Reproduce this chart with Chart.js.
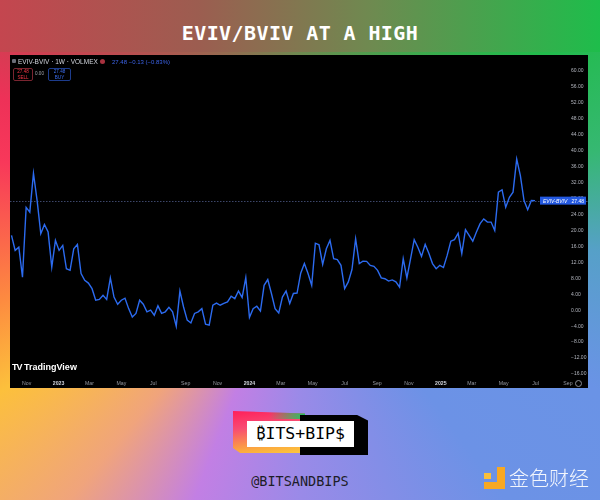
<!DOCTYPE html>
<html lang="en">
<head>
<meta charset="UTF-8" />
<title>EVIV/BVIV at a high</title>
<script src="https://cdn.jsdelivr.net/npm/chart.js"></script>
<style>
  body {
    margin: 0;
    width: 600px;
    height: 500px;
    overflow: hidden;
    position: relative;
    font-family: 'Liberation Sans', Arial, sans-serif;
    background:
      linear-gradient(90deg, #c4464f 0%, #9c5d50 33%, #6e8a50 62%, #1ebd4b 100%) top left / 600px 52px no-repeat,
      conic-gradient(from 0deg at 300px 225px, #6e8a50 0deg, #22bb4c 55deg, #36b872 76deg, #56a0c8 95deg,
        #6a93e6 119deg, #6c92e6 143deg, #9a8ae8 180deg, #c27fe4 201deg, #f0a47c 220deg, #fcc03c 241deg,
        #fd8a40 256deg, #f8385a 282deg, #ee3158 293deg, #c94250 305deg, #6e8a50 360deg);
  }

  #title {
    position: absolute; left: 0; top: 20px; width: 600px;
    text-align: center; color: #fff;
    font: bold 20px 'DejaVu Sans Mono', monospace;
    line-height: 26px; letter-spacing: 0.4px;
  }

  #panel {
    position: absolute; left: 10px; top: 55px;
    width: 578px; height: 333px; background: #000;
  }
  #panel .abs { position: absolute; white-space: nowrap; }

  .hdr { font-size: 6.5px; color: #d1d4dc; line-height: 8px; }
  .box { border: 1px solid; border-radius: 2px; text-align: center; font-size: 4.6px; line-height: 5.5px; }

  #tv { left: 2px; top: 307px; color: #fff; font-size: 9px; font-weight: bold; }

  /* logo */
  #lg-color {
    position: absolute; left: 233px; top: 411px; width: 72px; height: 42px;
    background:
      linear-gradient(90deg, rgba(34,197,94,0) 50%, #22c55e 100%) top / 100% 8px no-repeat,
      linear-gradient(172deg, #ff1f5a 0%, #f84a72 35%, #fca83f 78%, #fdc93c 100%);
    clip-path: polygon(0 0, 100% 6%, 100% 100%, 10% 100%, 0 88%);
  }
  #lg-black {
    position: absolute; left: 300px; top: 415px; width: 68px; height: 40px; background: #000;
    clip-path: polygon(0 0, 84% 0, 100% 14%, 100% 100%, 0 100%);
  }
  #lg-white {
    position: absolute; left: 247px; top: 421px; width: 107px; height: 26px; background: #fff;
    text-align: center; font: 16.5px 'DejaVu Sans Mono', 'Noto Sans', monospace; line-height: 26px; color: #000;
  }
  #handle {
    position: absolute; left: 200px; top: 473px; width: 200px; text-align: center;
    font: 13.5px 'DejaVu Sans Mono', monospace; color: #1d1d28; line-height: 16px;
  }
  #jsl { position: absolute; left: 484px; top: 467px; width: 21px; height: 22px; }
  #jsl div { position: absolute; background: #f7a823; }
  #jstext {
    position: absolute; left: 509px; top: 465px;
    font: 300 20px 'Noto Sans CJK SC', sans-serif; color: rgba(255,255,255,0.92); line-height: 26px;
  }
</style>
</head>
<body>

<div id="title">EVIV/BVIV AT A HIGH</div>

<div id="panel">
  <canvas id="chart"></canvas>

  <!-- TradingView header -->
  <div class="abs" style="left:2px;top:4px;width:4px;height:4px;background:#6a6d78;border-radius:1px;"></div>
  <div class="abs hdr" style="left:8px;top:3px;">EVIV-BVIV · 1W · VOLMEX</div>
  <div class="abs" style="left:90px;top:4px;width:5px;height:5px;border-radius:50%;background:#a8323f;"></div>
  <div class="abs hdr" style="left:102px;top:3px;font-size:6px;color:#3c63e6;">27.48 −0.13 (−0.83%)</div>
  <div class="abs box" style="left:3px;top:13px;width:18px;height:11px;border-color:#7a2530;color:#f23645;">27.48<br>SELL</div>
  <div class="abs" style="left:25px;top:16px;font-size:4.6px;color:#a0a3ab;">0.00</div>
  <div class="abs box" style="left:38px;top:13px;width:21px;height:11px;border-color:#1d3c8c;color:#3c6ef0;">27.48<br>BUY</div>

  <div class="abs" id="tv"><span style="letter-spacing:-1px;">TV</span> <span style="font-weight:600;">TradingView</span></div>
  <div class="abs" style="left:565px;top:325px;width:5px;height:5px;border:1px solid #8a8d96;border-radius:50%;"></div>
</div>

<div id="lg-color"></div>
<div id="lg-black"></div>
<div id="lg-white">₿ITS+BIP$</div>
<div id="handle">@BITSANDBIPS</div>

<div id="jsl">
  <div style="left:13px;top:0;width:8px;height:22px;"></div>
  <div style="left:0;top:15px;width:21px;height:7px;"></div>
  <div style="left:0;top:6px;width:7px;height:6px;background:#fbbf3a;"></div>
</div>
<div id="jstext">金色财经</div>

<script>
  // weekly EVIV - BVIV spread, first week starting 2022-10-03
  const startDate = '2022-10-03';
  const weekValues = [
    18.75, 15, 15.8, 8.3, 25.8, 24.6, 34.3, 27.5, 19.2, 21.5,
    19.6, 10.8, 17.5, 15, 16.25, 10.4, 10, 15.4, 16.5, 9.2,
    7.5, 6.8, 5.4, 2.5, 2.7, 3.75, 2.7, 8.1, 3.3, 1.5,
    2.5, 3, 0.4, -1.7, -0.8, 2.5, 1.5, -0.4, 0, -1.25,
    1.1, -0.8, -0.4, 0.7, -0.4, -4, 4.8, 0.8, -2.5, -3.2,
    -0.8, -0.4, 0.4, -3.5, -3.75, 1.25, 1.8, 1.25, 1.7, 2.1,
    3.5, 2.9, 4.8, 3.2, 8.2, -1.8, 0.4, 1, -0.2, 6.25,
    7.7, 4.2, 0.4, -0.7, 3.3, 4.8, 1.7, 4.2, 4.3, 9.3,
    11.7, 9.2, 6.25, 16.8, 16.4, 11.5, 15.4, 17.5, 12.9, 12.7,
    11.25, 5.4, 7.1, 10.2, 17.9, 11.7, 12.3, 12.25, 11.25, 11,
    10, 8.1, 7.9, 7.3, 7.6, 7.1, 5.8, 12.9, 8.1, 12.9,
    17.7, 15.8, 13.5, 16.5, 14.3, 11.7, 10.4, 11.25, 10.7, 13.75,
    17.3, 17.7, 19.3, 14.2, 20.2, 18.75, 17.3, 19.6, 21.7, 22.9,
    22.1, 22.1, 20, 29.6, 30.2, 25.8, 28.3, 29.6, 37.9, 33.75,
    27.5, 25.2, 27.5, 27.48
  ];

  const xTickDates = ['2022-11-01', '2023-01-01', '2023-03-01', '2023-05-01', '2023-07-01', '2023-09-01',
    '2023-11-01', '2024-01-01', '2024-03-01', '2024-05-01', '2024-07-01', '2024-09-01',
    '2024-11-01', '2025-01-01', '2025-03-01', '2025-05-01', '2025-07-01', '2025-09-01'];
  const xTickLabels = ['Nov', '2023', 'Mar', 'May', 'Jul', 'Sep', 'Nov', '2024', 'Mar', 'May', 'Jul', 'Sep',
    'Nov', '2025', 'Mar', 'May', 'Jul', 'Sep'];
  const yTicks = [60, 56, 52, 48, 44, 40, 36, 32, 28, 24, 20, 16, 12, 8, 4, 0, -4, -8, -12, -16];

  const dayOf = d => (Date.parse(d) - Date.parse(startDate)) / 86400000;
  const points = weekValues.map((v, i) => ({ x: i * 7, y: v }));
  const lastValue = weekValues[weekValues.length - 1];
  const isYear = i => /^\d{4}$/.test(xTickLabels[i]);

  // dotted last-value line + series price label
  const lastLine = {
    id: 'lastLine',
    beforeDatasetsDraw(chart) {
      const { ctx, chartArea, scales: { y } } = chart;
      const py = Math.round(y.getPixelForValue(lastValue)) + 0.5;
      ctx.save();
      ctx.strokeStyle = 'rgba(85,100,150,0.7)';
      ctx.lineWidth = 1;
      ctx.setLineDash([1.5, 1.5]);
      ctx.beginPath();
      ctx.moveTo(chartArea.left, py);
      ctx.lineTo(chart.width, py);
      ctx.stroke();
      ctx.restore();
    },
    afterDatasetsDraw(chart) {
      const { ctx, scales: { x, y } } = chart;
      const py = y.getPixelForValue(lastValue);
      const bx = x.getPixelForValue((weekValues.length - 1) * 7) + 5;
      const bw = chart.width - 2 - bx;
      ctx.save();
      ctx.fillStyle = '#2358e0';
      ctx.fillRect(bx, py - 4, bw, 8);
      ctx.fillStyle = '#fff';
      ctx.textBaseline = 'middle';
      ctx.font = 'italic 5px "Liberation Sans"';
      ctx.fillText('EVIV-BVIV', bx + 3, py + 0.5);
      ctx.textAlign = 'right';
      ctx.font = '5px "Liberation Sans"';
      ctx.fillText(lastValue.toFixed(2), bx + bw - 2, py + 0.5);
      ctx.restore();
    }
  };

  new Chart(document.getElementById('chart'), {
    type: 'line',
    data: {
      datasets: [{
        data: points,
        borderColor: '#2c6bf0',
        borderWidth: 1.4,
        pointRadius: 0,
        tension: 0
      }]
    },
    options: {
      responsive: true,
      maintainAspectRatio: false,
      animation: false,
      layout: { padding: { top: 3, left: 0, right: 0, bottom: 0 } },
      plugins: { legend: { display: false }, tooltip: { enabled: false } },
      scales: {
        x: {
          type: 'linear',
          min: -2.87,
          max: 1067.9,
          grid: { display: false, drawTicks: false },
          border: { display: false },
          afterBuildTicks: s => { s.ticks = xTickDates.map(d => ({ value: dayOf(d) })); },
          afterFit: s => { s.height = 11; },
          ticks: {
            autoSkip: false,
            maxRotation: 0,
            padding: 3,
            callback: (v, i) => xTickLabels[i],
            color: ctx => isYear(ctx.index) ? '#d1d4dc' : '#9598a1',
            font: ctx => ({ family: 'Liberation Sans', size: 5.2, weight: isYear(ctx.index) ? 'bold' : 'normal' })
          }
        },
        y: {
          position: 'right',
          min: -16.75,
          max: 63,
          grid: { display: false, drawTicks: false },
          border: { display: false },
          afterBuildTicks: s => { s.ticks = yTicks.map(v => ({ value: v })); },
          afterFit: s => { s.width = 18; },
          ticks: {
            padding: 1,
            crossAlign: 'near',
            color: '#b2b5be',
            font: { family: 'Liberation Sans', size: 5 },
            callback: v => (v < 0 ? '−' : '') + Math.abs(v).toFixed(2)
          }
        }
      }
    },
    plugins: [lastLine]
  });
</script>
</body>
</html>
